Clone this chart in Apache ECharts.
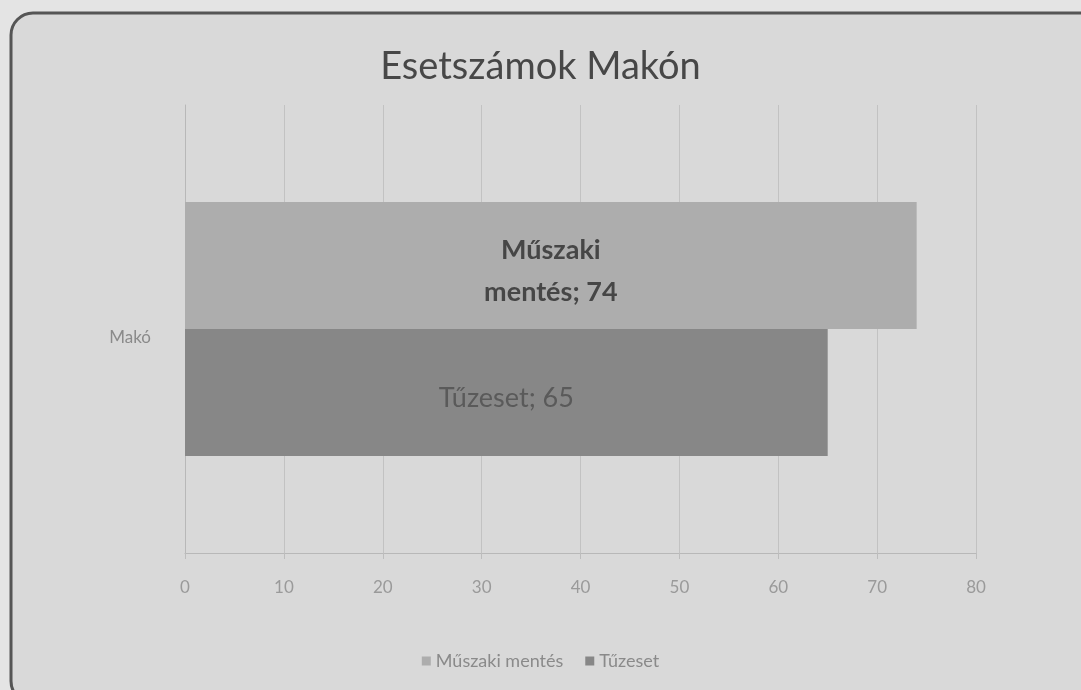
<!DOCTYPE html>
<html>
<head>
<meta charset="utf-8">
<script src="https://cdn.jsdelivr.net/npm/echarts@6/dist/echarts.min.js"></script>
<style>
  html, body { margin: 0; padding: 0; background: #e4e4e4; }
  #chart { width: 1081px; height: 690px; }
</style>
</head>
<body>
<div id="chart"></div>
<script>
// chart data
const categories = ['Makó']
const seriesNames = ['Műszaki mentés', 'Tűzeset']
const muszakiValues = [74]
const tuzesetValues = [65]
const xTicks = [0, 80, 10] // min, max, interval

const chart = echarts.init(document.getElementById('chart'))
const font = 'Lato, "Open Sans", sans-serif'

const barLabel = (color, weight) => ({
  show: true,
  position: 'inside',
  offset: [0, 6],
  color: color,
  fontFamily: font,
  fontWeight: weight,
  fontSize: 27,
  lineHeight: 42,
  formatter: p => p.seriesName.replace(' ', '\n') + '; ' + p.value
})

chart.setOption({
  backgroundColor: '#e4e4e4',
  animation: false,
  graphic: [{
    type: 'rect',
    z: -10,
    shape: { x: 11, y: 13, width: 1090, height: 690, r: 22 },
    style: { fill: '#d9d9d9', stroke: '#555', lineWidth: 3 }
  }],
  title: {
    text: 'Esetszámok Makón',
    left: 'center',
    top: 43,
    textStyle: { fontFamily: font, fontSize: 38, fontWeight: 'normal', color: '#474747' }
  },
  legend: {
    bottom: 15,
    left: 'center',
    data: seriesNames,
    itemWidth: 9,
    itemHeight: 9,
    itemGap: 22,
    icon: 'rect',
    textStyle: { fontFamily: font, fontSize: 18, color: '#8a8a8a' }
  },
  grid: { left: 185, right: 105, top: 105, bottom: 137 },
  xAxis: {
    type: 'value',
    min: xTicks[0],
    max: xTicks[1],
    interval: xTicks[2],
    axisLine: { show: true, lineStyle: { color: '#b8b8b8' } },
    axisTick: { show: true, length: 6, lineStyle: { color: '#bdbdbd' } },
    splitLine: { show: true, lineStyle: { color: '#c2c2c2', width: 1 } },
    axisLabel: { margin: 26, fontFamily: font, fontSize: 17, color: '#9a9a9a' }
  },
  yAxis: {
    type: 'category',
    data: categories,
    inverse: true,
    axisLine: { show: true, lineStyle: { color: '#b8b8b8' } },
    axisTick: { show: false },
    axisLabel: { margin: 34, fontFamily: font, fontSize: 17, color: '#8a8a8a', lineHeight: 18, verticalAlign: 'top' }
  },
  series: [
    {
      name: seriesNames[0],
      type: 'bar',
      data: muszakiValues,
      barWidth: 127,
      barGap: '0%',
      itemStyle: { color: '#adadad' },
      label: barLabel('#464646', 'bold')
    },
    {
      name: seriesNames[1],
      type: 'bar',
      data: tuzesetValues,
      barWidth: 127,
      barGap: '0%',
      itemStyle: { color: '#878787' },
      label: barLabel('#5a5a5a', 'normal')
    }
  ]
})
</script>
</body>
</html>
